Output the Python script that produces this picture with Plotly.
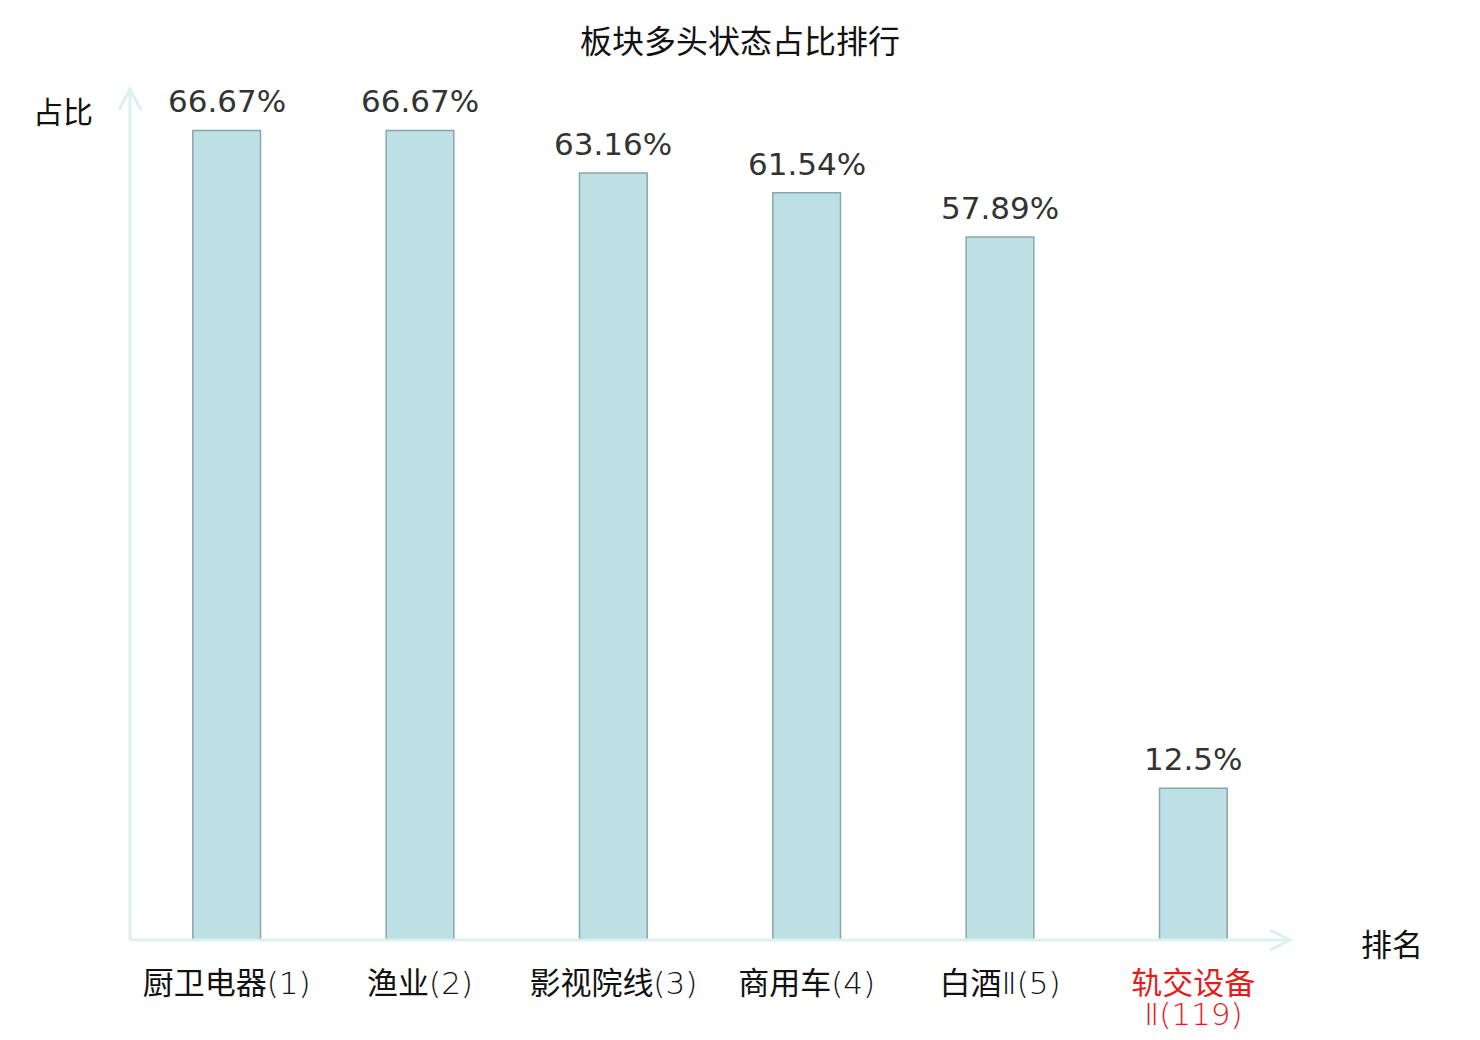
import plotly.graph_objects as go

# data
sectors = ['厨卫电器', '渔业', '影视院线', '商用车', '白酒Ⅱ', '轨交设备Ⅱ']
ranks = [1, 2, 3, 4, 5, 119]
ratios = [66.67, 66.67, 63.16, 61.54, 57.89, 12.5]
value_labels = ['66.67%', '66.67%', '63.16%', '61.54%', '57.89%', '12.5%']

# page body has an 8px margin, so the figure is a bit smaller than the window
OFF = 8
W, H = 1480 - 2 * OFF, 1040 - 2 * OFF
L, R, T, B = 130 - OFF, 190 - OFF, 90 - OFF, 100 - OFF
PW, PH = W - L - R, H - T - B
AXIS_COLOR = '#dcf0ee'
RED = '#e51c1c'
THIN = "<span style='font-family:DejaVu Sans;font-weight:200'>%s</span>"


def px(x):
    # screenshot x -> paper
    return (x - OFF - L) / PW


def py(y):
    # screenshot y -> paper
    return (H - B - (y - OFF)) / PH


def split_latin(name):
    # Chinese part, trailing roman numeral part
    cut = len(name.rstrip('Ⅱ'))
    return name[:cut], name[cut:]


tick_text = []
wrapped = []  # second lines of long labels, drawn below the tick label
for name, rk in zip(sectors, ranks):
    cn, tail = split_latin(name)
    if rk > 5:
        tick_text.append("<span style='color:%s'>%s</span>" % (RED, cn))
        wrapped.append((name, THIN % ('%s(%d)' % (tail, rk))))
    else:
        tick_text.append(cn + THIN % ('%s(%d)' % (tail, rk)))

bars = go.Bar(
    x=sectors,
    y=ratios,
    marker=dict(color='#bce0e3', line=dict(color='#8aa6a8', width=1.5)),
    hoverinfo='skip',
)

fig = go.Figure(data=[bars])

shapes = [
    # x axis with arrow
    dict(type='line', xref='paper', yref='paper', x0=0, x1=1, y0=0, y1=0,
         line=dict(color=AXIS_COLOR, width=3)),
    dict(type='path', xref='paper', yref='paper',
         path='M %f,%f L %f,%f L %f,%f' % (px(1270), py(930), px(1290), py(940), px(1270), py(950)),
         line=dict(color=AXIS_COLOR, width=3)),
    # y axis with arrow
    dict(type='line', xref='paper', yref='paper', x0=0, x1=0, y0=0, y1=1,
         line=dict(color=AXIS_COLOR, width=3)),
    dict(type='path', xref='paper', yref='paper',
         path='M %f,%f L %f,%f L %f,%f' % (px(119), py(110), px(130), py(89), px(141), py(110)),
         line=dict(color=AXIS_COLOR, width=3)),
]

annotations = [
    dict(text='占比', xref='paper', yref='paper', x=px(63), y=py(110),
         xanchor='center', yanchor='middle', showarrow=False,
         font=dict(family='Noto Sans CJK SC', size=30, color='#111111')),
    dict(text='排名', xref='paper', yref='paper', x=px(1392), y=py(942),
         xanchor='center', yanchor='middle', showarrow=False,
         font=dict(family='Noto Sans CJK SC', size=31, color='#111111')),
]
for name, val, lab in zip(sectors, ratios, value_labels):
    annotations.append(dict(
        text=lab, x=name, y=val, xref='x', yref='y', xanchor='center', yanchor='bottom',
        yshift=9, showarrow=False,
        font=dict(family='DejaVu Sans', size=31, color='#333333'),
    ))
for name, line2 in wrapped:
    annotations.append(dict(
        text=line2, x=name, y=py(1014), xref='x', yref='paper', xanchor='center', yanchor='middle',
        showarrow=False, font=dict(family='Noto Sans CJK SC', size=31, color=RED),
    ))

fig.update_layout(
    width=W, height=H,
    margin=dict(l=L, r=R, t=T, b=B),
    paper_bgcolor='white', plot_bgcolor='white',
    title=dict(text='板块多头状态占比排行', x=0.5, xanchor='center', y=1 - (42 - OFF) / H, yanchor='middle',
               font=dict(family='Noto Sans CJK SC', size=32, color='#111111')),
    bargap=0.65,
    showlegend=False,
    shapes=shapes,
    annotations=annotations,
    xaxis=dict(
        tickmode='array', tickvals=sectors, ticktext=tick_text,
        tickfont=dict(family='Noto Sans CJK SC', size=31, color='#111111'),
        ticks='outside', ticklen=16, tickcolor='rgba(0,0,0,0)',
        showline=False, showgrid=False, zeroline=False, automargin=False,
    ),
    yaxis=dict(range=[0, 70], showticklabels=False, showgrid=False, zeroline=False,
               showline=False, ticks='', automargin=False),
)

fig.write_html('out.html')
